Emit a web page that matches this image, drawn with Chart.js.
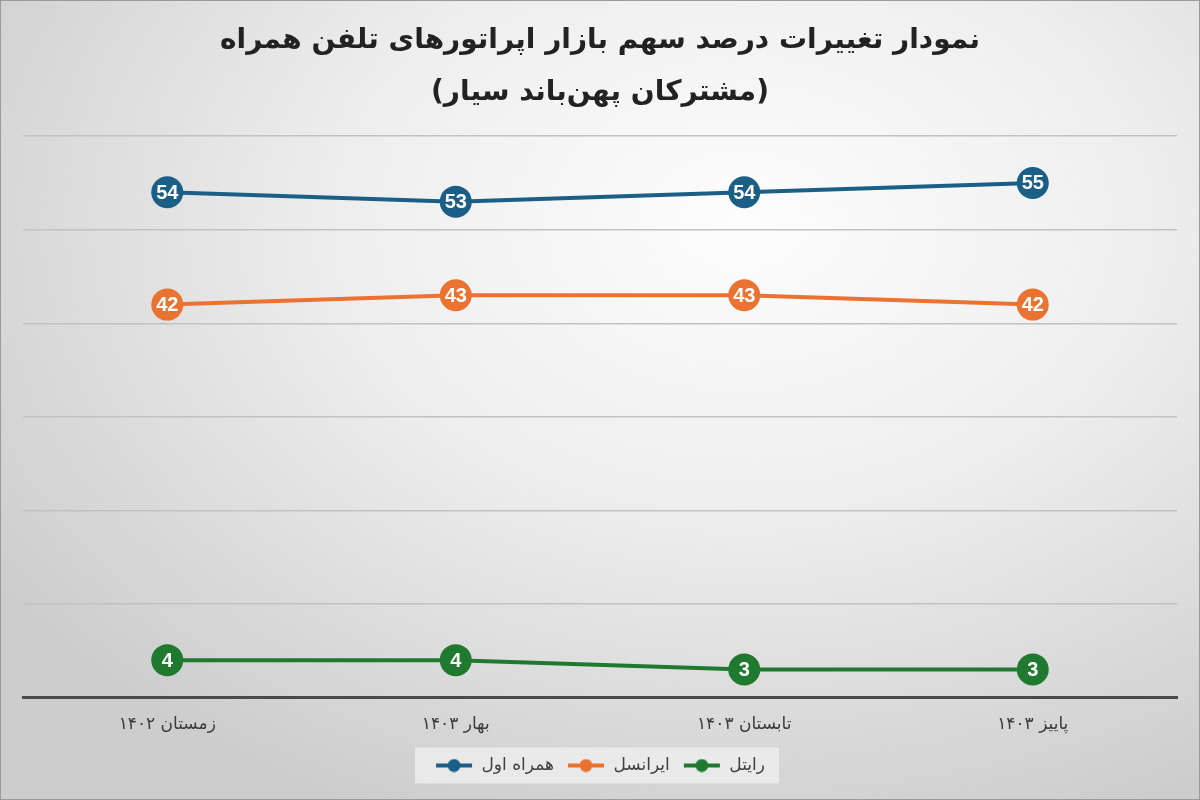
<!DOCTYPE html>
<html>
<head>
<meta charset="utf-8">
<script src="https://cdn.jsdelivr.net/npm/chart.js@4"></script>
<style>
  body { margin: 0; }
  #wrap {
    width: 1200px; height: 800px; box-sizing: border-box;
    border: 1px solid #9a9a9a;
    background: radial-gradient(ellipse 75% 80% at 62% 28%, #fdfdfd 0%, #eeeeee 45%, #d6d6d6 85%, #cdcdcd 100%);
  }
</style>
</head>
<body>
<div id="wrap"><canvas id="myChart"></canvas></div>
<script>
const quarters = ['زمستان ۱۴۰۲', 'بهار ۱۴۰۳', 'تابستان ۱۴۰۳', 'پاییز ۱۴۰۳'];
const hamrahAval = [54, 53, 54, 55];
const irancell = [42, 43, 43, 42];
const rightel = [4, 4, 3, 3];
const seriesNames = ['همراه اول', 'ایرانسل', 'رایتل'];
const colors = ['#1b5e86', '#ea7331', '#1f7a2f'];

// little line-with-dot marker for the legend
function legendMarker(color) {
  const c = document.createElement('canvas');
  c.width = 38; c.height = 14;
  const g = c.getContext('2d');
  g.strokeStyle = color; g.lineWidth = 4;
  g.beginPath(); g.moveTo(1, 7); g.lineTo(37, 7); g.stroke();
  g.fillStyle = color;
  g.beginPath(); g.arc(19, 7, 6.5, 0, Math.PI * 2); g.fill();
  return c;
}

const valueLabels = {
  id: 'valueLabels',
  afterDatasetsDraw(chart) {
    const ctx = chart.ctx;
    ctx.save();
    ctx.fillStyle = '#ffffff';
    ctx.font = 'bold 20px "Liberation Sans", Arial, sans-serif';
    ctx.textAlign = 'center';
    ctx.textBaseline = 'middle';
    chart.data.datasets.forEach((ds, i) => {
      chart.getDatasetMeta(i).data.forEach((pt, j) => {
        ctx.fillText(ds.data[j], pt.x, pt.y + 1);
      });
    });
    ctx.restore();
  }
};

// soft shadow under the title text, like the original
const titleShadow = {
  id: 'titleShadow',
  beforeDraw(chart) {
    chart.ctx.save();
  },
  beforeDatasetsDraw(chart) {}
};

const legendBox = {
  id: 'legendBox',
  beforeDraw(chart) {
    const l = chart.legend;
    const ctx = chart.ctx;
    const items = l.legendHitBoxes;
    if (!items.length) return;
    const last = items[items.length - 1];
    const x0 = items[0].left - 20;
    const x1 = last.left + last.width + 14;
    const cy = items[0].top + items[0].height / 2;
    ctx.save();
    ctx.fillStyle = 'rgba(240,240,240,0.75)';
    ctx.fillRect(x0, cy - 18, x1 - x0, 36);
    ctx.restore();
  }
};

const data = {
  labels: quarters,
  datasets: [hamrahAval, irancell, rightel].map((vals, i) => ({
    label: seriesNames[i],
    data: vals,
    borderColor: colors[i],
    backgroundColor: colors[i],
    borderWidth: 4,
    pointRadius: 16,
    pointHoverRadius: 16,
    pointBorderWidth: 0,
    pointStyle: 'circle',
    tension: 0
  }))
};

const config = {
  type: 'line',
  data,
  options: {
    responsive: true,
    maintainAspectRatio: false,
    animation: false,
    layout: { autoPadding: false, padding: { left: 22, right: 22, top: 0, bottom: 15 } },
    scales: {
      x: {
        offset: true,
        grid: { display: false },
        border: { display: true, color: '#4a4a4a', width: 3 },
        ticks: { color: '#3a3a3a', padding: 9, font: { size: 17, family: '"DejaVu Serif", "DejaVu Sans", serif' } }
      },
      y: {
        min: 0, max: 60,
        ticks: { stepSize: 10, display: false },
        grid: { color: '#c2c2c2', lineWidth: 1.5, drawTicks: false },
        border: { display: false }
      }
    },
    plugins: {
      title: {
        display: true,
        text: ['نمودار تغییرات درصد سهم بازار اپراتورهای تلفن همراه', '(مشترکان پهن‌باند سیار)'],
        color: '#222222',
        font: { size: 28, weight: 'bold', family: '"DejaVu Sans", sans-serif', lineHeight: 1.86 },
        padding: { top: 14, bottom: 17 }
      },
      legend: {
        position: 'bottom',
        labels: {
          usePointStyle: true,
          pointStyleWidth: 38,
          color: '#404040',
          padding: 13,
          font: { size: 17, family: '"DejaVu Sans", sans-serif' },
          generateLabels(chart) {
            return chart.data.datasets.map((ds, i) => ({
              text: ds.label,
              pointStyle: legendMarker(colors[i]),
              fillStyle: colors[i],
              strokeStyle: colors[i],
              fontColor: '#404040',
              lineWidth: 0,
              datasetIndex: i
            }));
          }
        }
      },
      tooltip: { enabled: false }
    }
  },
  plugins: [valueLabels, legendBox]
};

const myChart = new Chart(document.getElementById('myChart'), config);
</script>
</body>
</html>
